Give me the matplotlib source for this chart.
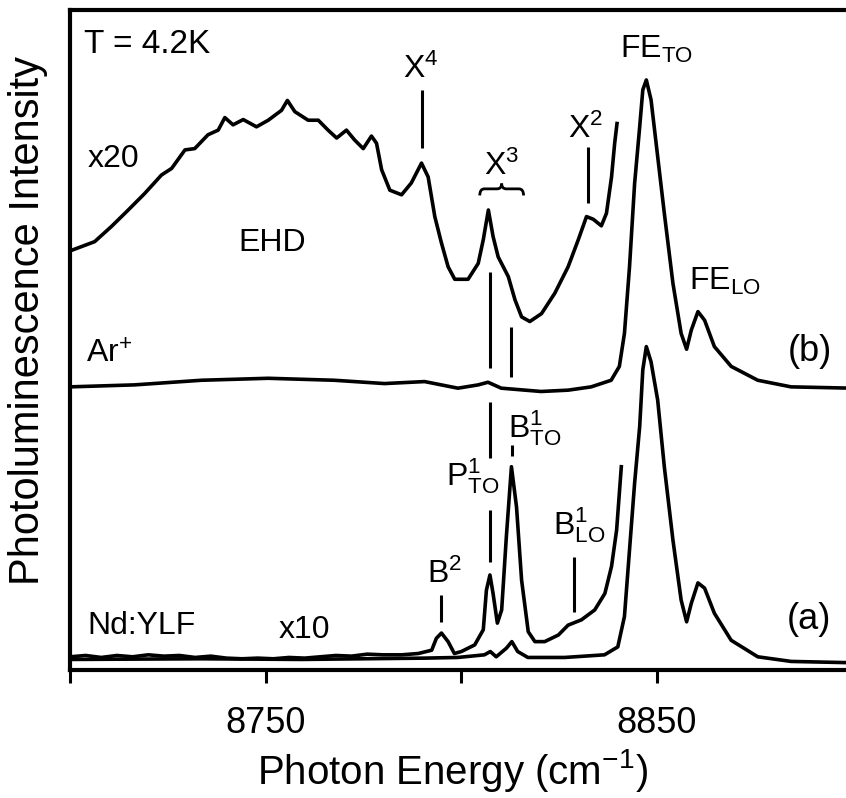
"""PL spectra of Ge: Ar+ (b) vs Nd:YLF (a) excitation, T = 4.2 K."""
import matplotlib
matplotlib.use("Agg")
import matplotlib.pyplot as plt
from matplotlib.path import Path
from matplotlib.patches import PathPatch

plt.rcParams["font.family"] = ["Liberation Sans", "DejaVu Sans"]
plt.rcParams["mathtext.fontset"] = "custom"
plt.rcParams["mathtext.rm"] = "Liberation Sans"
plt.rcParams["mathtext.it"] = "Liberation Sans"
plt.rcParams["mathtext.default"] = "regular"

# photon energy (cm^-1) / intensity (arb. units, curves offset as in the original)
# (b) Ar+ excitation, x20 trace
EHD_X = [8700.0, 8706.3, 8710.6, 8714.9, 8719.1, 8723.4, 8726.0, 8729.4, 8731.9, 8735.3,
         8737.9, 8739.6, 8741.7, 8744.3, 8747.7, 8750.7, 8754.1, 8755.6, 8757.5, 8760.9,
         8763.5, 8766.0, 8768.2, 8770.7, 8772.8, 8775.0, 8777.1, 8778.4, 8779.7, 8781.8,
         8784.8, 8787.3, 8789.9, 8791.6, 8793.3, 8795.0, 8796.7, 8798.4, 8801.8, 8804.4,
         8805.7, 8807.0, 8808.2, 8809.5, 8812.1, 8813.8, 8815.5, 8817.6, 8820.6, 8824.0,
         8827.4, 8830.0, 8832.1, 8833.8, 8835.9, 8837.2, 8838.5, 8839.3, 8839.9]
EHD_Y = [63.5, 64.9, 67.2, 69.7, 72.2, 75.0, 76.0, 78.8, 79.0, 81.1,
         81.8, 83.7, 82.6, 83.4, 82.3, 83.3, 84.8, 86.3, 84.6, 83.3,
         83.3, 81.8, 80.6, 81.8, 80.3, 79.0, 80.9, 79.8, 75.8, 72.7,
         72.0, 73.8, 76.8, 74.7, 68.7, 64.7, 61.1, 59.2, 59.2, 61.6,
         65.2, 69.7, 65.7, 62.6, 59.6, 56.1, 53.5, 52.8, 54.0, 57.1,
         61.1, 65.2, 68.7, 68.3, 67.3, 69.2, 74.7, 79.8, 82.8]

# (b) Ar+ excitation, full scale
AR_X = [8700.0, 8716.5, 8733.6, 8750.7, 8767.6, 8780.4, 8790.7, 8799.2, 8804.4, 8806.9,
        8810.3, 8820.5, 8827.4, 8833.3, 8838.4, 8840.5, 8841.8, 8843.1, 8844.4, 8845.7,
        8846.5, 8847.4, 8848.6, 8850.3, 8852.0, 8854.2, 8856.3, 8857.7, 8858.9, 8860.6,
        8862.3, 8864.8, 8869.1, 8875.9, 8884.4, 8900.0]
AR_Y = [42.9, 43.2, 43.9, 44.2, 43.9, 43.4, 43.7, 42.7, 43.2, 43.6,
        42.7, 42.2, 42.4, 42.9, 43.9, 46.0, 51.0, 61.1, 73.7, 82.3,
        87.9, 89.4, 86.4, 77.8, 69.2, 58.6, 51.0, 48.6, 51.5, 54.3,
        53.0, 49.0, 46.0, 43.9, 42.9, 42.7]

# (a) Nd:YLF excitation, x10 trace
ND10_X = [8700, 8704, 8708, 8712, 8716, 8720, 8724, 8728, 8732, 8736,
          8740, 8744, 8748, 8752, 8756, 8760, 8764, 8768, 8772, 8776,
          8780, 8784.8, 8789.1, 8792.5, 8793.7, 8795.0, 8796.7, 8798.3, 8800.1, 8803.5,
          8805.7, 8806.5, 8807.4, 8808.2, 8809.3, 8810.4, 8811.6, 8812.9, 8814.2, 8815.5,
          8817.2, 8818.9, 8821.4, 8824.9, 8827.4, 8830.8, 8834.2, 8836.8, 8838.5, 8839.8,
          8841.0]
ND10_Y = [2.0, 2.2, 1.9, 2.2, 2.0, 2.3, 2.1, 2.2, 1.9, 2.1,
          1.8, 1.7, 1.8, 1.7, 1.9, 1.8, 2.0, 2.2, 2.1, 2.4,
          2.3, 2.3, 2.5, 3.0, 4.8, 5.6, 4.3, 2.5, 2.8, 3.8,
          6.1, 12.1, 14.4, 11.6, 7.1, 9.1, 20.2, 30.8, 24.7, 13.6,
          5.8, 4.3, 4.3, 5.3, 6.8, 7.6, 9.1, 11.6, 15.7, 21.2,
          30.8]

# (a) Nd:YLF excitation, full scale
ND_X = [8700.0, 8733.6, 8759.2, 8790.7, 8799.2, 8806.0, 8807.5, 8809.0, 8811.6, 8813.0,
        8814.5, 8817.1, 8826.5, 8836.7, 8840.1, 8841.8, 8843.1, 8844.4, 8845.7, 8846.5,
        8847.4, 8848.6, 8850.3, 8852.0, 8854.2, 8856.3, 8857.7, 8858.9, 8860.6, 8862.3,
        8864.8, 8869.1, 8875.9, 8884.4, 8900.0]
ND_Y = [1.6, 1.7, 1.6, 1.8, 1.9, 2.3, 2.8, 2.0, 3.3, 4.3,
        2.8, 1.9, 1.9, 2.3, 3.5, 8.1, 18.2, 28.3, 36.9, 45.5,
        49.0, 46.7, 40.9, 30.8, 19.7, 10.6, 7.3, 10.1, 13.2, 12.4,
        8.6, 4.5, 2.0, 1.3, 1.1]

# peak labels: text, x, y (baseline), marker x, marker y-ranges
PEAK_LABELS = [r"X$^4$", r"X$^3$", r"X$^2$", r"FE$_{TO}$", r"FE$_{LO}$",
               r"B$^2$", r"P$^1_{TO}$", r"B$^1_{TO}$", r"B$^1_{LO}$"]
PEAK_TX = [8789.6, 8810.4, 8831.8, 8850.0, 8867.4, 8795.8, 8802.9, 8818.8, 8830.3]
PEAK_TY = [89.7, 75.0, 80.6, 92.7, 57.6, 13.2, 28.0, 35.3, 20.5]

TICK_LINE_X = [8789.9, 8807.3, 8812.9, 8807.3, 8807.3, 8813.1, 8832.4, 8794.8, 8828.8]
TICK_LINE_Y0 = [79.1, 45.8, 44.4, 32.1, 16.4, 32.4, 70.8, 7.3, 8.8]
TICK_LINE_Y1 = [87.9, 60.3, 52.0, 40.6, 24.2, 34.1, 79.2, 11.4, 17.1]

LW = 2.6
fig = plt.figure(figsize=(8.46, 7.98), dpi=100)
ax = fig.add_axes([70 / 846, 128 / 798, 782 / 846, 660 / 798])

for xs, ys in [(EHD_X, EHD_Y), (AR_X, AR_Y), (ND10_X, ND10_Y), (ND_X, ND_Y)]:
    ax.plot(xs, ys, color="black", lw=LW, solid_joinstyle="round")

ax.vlines(TICK_LINE_X, TICK_LINE_Y0, TICK_LINE_Y1, color="black", lw=2.2)

for lab, tx, ty in zip(PEAK_LABELS, PEAK_TX, PEAK_TY):
    ax.text(tx, ty, lab, fontsize=23, ha="center", va="baseline")

# brace under X^3
xc, hw, yl, ym, yt = 8810.4, 5.6, 71.9, 72.9, 73.7
verts = [(xc - hw, yl), (xc - hw, ym), (xc - hw + 1.2, ym), (xc - 1.2, ym),
         (xc, ym), (xc, yt), (xc, ym), (xc + 1.2, ym), (xc + hw - 1.2, ym),
         (xc + hw, ym), (xc + hw, yl)]
codes = [Path.MOVETO, Path.CURVE3, Path.CURVE3, Path.LINETO, Path.CURVE3, Path.CURVE3,
         Path.CURVE3, Path.CURVE3, Path.LINETO, Path.CURVE3, Path.CURVE3]
ax.add_patch(PathPatch(Path(verts, codes), fill=False, lw=2.0, color="black"))

ax.text(8703.5, 94.8, "T = 4.2K", fontsize=24, ha="left", va="center")
ax.text(8711.1, 77.4, "x20", fontsize=23, ha="center", va="center")
ax.text(8751.8, 64.7, "EHD", fontsize=23, ha="center", va="center")
ax.text(8704.2, 46.5, r"Ar$^{{+}}$", fontsize=23, ha="left", va="baseline")
ax.text(8718.3, 6.7, "Nd:YLF", fontsize=23, ha="center", va="center")
ax.text(8760.0, 6.1, "x10", fontsize=23, ha="center", va="center")
ax.text(8889.1, 48.2, "(b)", fontsize=26, ha="center", va="center")
ax.text(8889.1, 7.6, "(a)", fontsize=26, ha="center", va="center")

ax.set_xlim(8700, 8900)
ax.set_ylim(0, 100)
ax.set_xticks([8700, 8750, 8800, 8850, 8900], ["", "8750", "", "8850", ""])
ax.set_yticks([])
ax.tick_params(axis="x", direction="out", length=9, width=2.2, labelsize=26, pad=17)
for sp in ax.spines.values():
    sp.set_linewidth(3)

ax.set_xlabel("Photon Energy (cm$^{-1}$)", fontsize=29)
ax.xaxis.set_label_coords(0.489, -0.117)
ax.xaxis.label.set_va("top")
ax.set_ylabel("Photoluminescence Intensity", fontsize=30)
ax.yaxis.set_label_coords(-0.028, 0.529)

fig.savefig("out.png", dpi=100)
